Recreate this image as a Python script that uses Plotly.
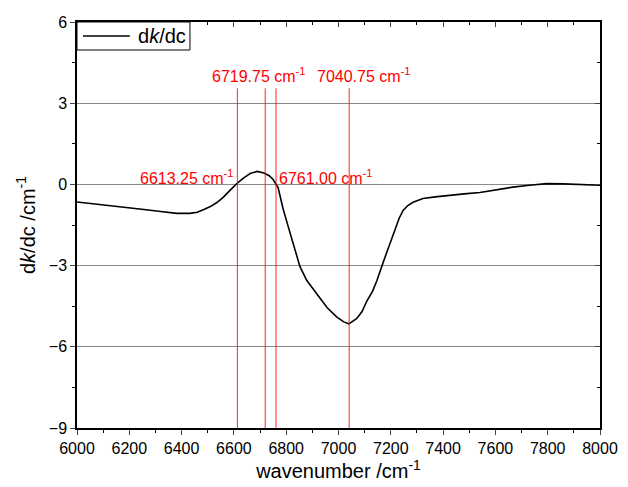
import plotly.graph_objects as go

wavenumber = [6000, 6060, 6126, 6190, 6256, 6320, 6382, 6432, 6460, 6485, 6510, 6535, 6560, 6585,
              6611, 6635, 6662, 6689, 6715, 6735, 6750, 6769, 6788, 6815, 6835, 6853, 6879,
              6918, 6956, 6994, 7020, 7040, 7070, 7090, 7109, 7130, 7147, 7170, 7190, 7216, 7232,
              7247, 7265, 7285, 7323, 7370, 7415, 7480, 7541, 7600, 7667, 7730, 7797, 7860, 7924, 8000]
dkdc = [-0.65, -0.71, -0.78, -0.85, -0.93, -1.0, -1.07, -1.07, -1.03, -0.93, -0.82, -0.67, -0.47, -0.22,
        0.03, 0.22, 0.4, 0.48, 0.42, 0.32, 0.18, -0.12, -0.9, -1.8, -2.45, -3.05, -3.55,
        -4.04, -4.55, -4.9, -5.08, -5.15, -4.95, -4.7, -4.3, -3.95, -3.55, -2.9, -2.35, -1.63, -1.25,
        -0.96, -0.78, -0.66, -0.52, -0.46, -0.41, -0.35, -0.3, -0.2, -0.1, -0.03, 0.03, 0.02, 0.0, -0.03]
series_name = "d<i>k</i>/dc"

marker_positions = [6613.25, 6719.75, 6761.00, 7040.75]
marker_labels = ["6613.25 cm<sup>-1</sup>", "6719.75 cm<sup>-1</sup>",
                 "6761.00 cm<sup>-1</sup>", "7040.75 cm<sup>-1</sup>"]
marker_top = 3.55

x_ticks = list(range(6000, 8001, 200))
y_ticks = [-9, -6, -3, 0, 3, 6]

fig = go.Figure()
fig.add_trace(go.Scatter(x=wavenumber, y=dkdc, mode="lines", name=series_name,
                         line=dict(color="black", width=1.6), showlegend=False))
# invisible trace to anchor mirrored axes
fig.add_trace(go.Scatter(x=[6000], y=[0], xaxis="x2", yaxis="y2", mode="markers",
                         marker=dict(opacity=0), showlegend=False, hoverinfo="skip"))

for xv in marker_positions:
    fig.add_shape(type="line", x0=xv, x1=xv, y0=-9, y1=marker_top, xref="x", yref="y",
                  line=dict(color="rgba(255,0,0,0.85)", width=1))

label_pos = [(marker_positions[0], 0.28, "right", -1),
             (marker_positions[1], 4.05, "center", -6),
             (marker_positions[2], 0.28, "left", 1),
             (marker_positions[3], 4.05, "center", 15)]
for (xv, yv, anc, xs), txt in zip(label_pos, marker_labels):
    fig.add_annotation(x=xv, y=yv, text=txt, showarrow=False, xanchor=anc, yanchor="middle",
                       xshift=xs, font=dict(color="red", size=16, family="Liberation Sans, Arial"))

# legend box (drawn in paper coordinates)
fig.add_shape(type="rect", xref="paper", yref="paper", x0=0, x1=0.216, y0=0.931, y1=1.0,
              line=dict(color="black", width=1), fillcolor="white", layer="above")
fig.add_shape(type="line", xref="paper", yref="paper", x0=0.0115, x1=0.101, y0=0.9655, y1=0.9655,
              line=dict(color="black", width=1.6), layer="above")
fig.add_annotation(xref="paper", yref="paper", x=0.113, y=0.9655, text=series_name, showarrow=False,
                   xanchor="left", yanchor="middle", font=dict(size=20, color="black"))

axis_common = dict(showline=True, linecolor="black", linewidth=1.5, zeroline=False, automargin=False)
fig.update_layout(
    width=628, height=487,
    margin=dict(l=77, r=28, t=22, b=59),
    plot_bgcolor="white", paper_bgcolor="white",
    font=dict(family="Liberation Sans, Arial", size=16, color="black"),
    xaxis=dict(range=[6000, 8000], tickvals=x_ticks, ticks="outside", ticklen=5,
               minor=dict(dtick=100, ticks="outside", ticklen=3, tickcolor="black"),
               showgrid=False, title=dict(text="wavenumber /cm<sup>-1</sup>", font=dict(size=20), standoff=4),
               tickfont=dict(size=16), **axis_common),
    yaxis=dict(range=[-9, 6], tickvals=y_ticks, ticks="outside", ticklen=5,
               minor=dict(dtick=1.5, ticks="outside", ticklen=3, tickcolor="black"),
               showgrid=True, gridcolor="#8a8a8a", gridwidth=1,
               title=dict(text="d<i>k</i>/dc /cm<sup>-1</sup>", font=dict(size=20), standoff=8),
               tickfont=dict(size=16), **axis_common),
    xaxis2=dict(range=[6000, 8000], overlaying="x", side="top", anchor="y2", tickvals=x_ticks,
                ticks="inside", ticklen=5, showticklabels=False, showgrid=False,
                minor=dict(dtick=100, ticks="inside", ticklen=3, tickcolor="black"), **axis_common),
    yaxis2=dict(range=[-9, 6], overlaying="y", side="right", anchor="x2", tickvals=y_ticks,
                ticks="inside", ticklen=5, showticklabels=False, showgrid=False,
                minor=dict(dtick=1.5, ticks="inside", ticklen=3, tickcolor="black"), **axis_common),
    showlegend=False,
)

fig.write_html("out.html", config={"displayModeBar": False},
               post_script="document.body.style.margin='0';")
